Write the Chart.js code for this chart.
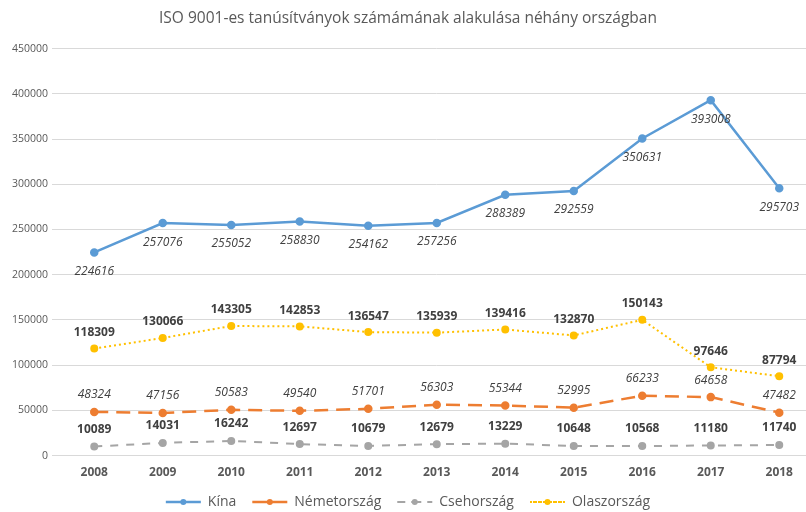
<!DOCTYPE html>
<html>
<head>
<meta charset="utf-8">
<script src="https://cdn.jsdelivr.net/npm/chart.js@4.4.1/dist/chart.umd.min.js"></script>
<style>
html, body { margin: 0; padding: 0; background: #fff; overflow: hidden; }
#wrap { width: 820px; height: 519px; position: relative; }
</style>
</head>
<body>
<div id="wrap"><canvas id="myChart"></canvas></div>
<script>
const years = ['2008', '2009', '2010', '2011', '2012', '2013', '2014', '2015', '2016', '2017', '2018'];
const kina = [224616, 257076, 255052, 258830, 254162, 257256, 288389, 292559, 350631, 393008, 295703];
const nemet = [48324, 47156, 50583, 49540, 51701, 56303, 55344, 52995, 66233, 64658, 47482];
const cseh = [10089, 14031, 16242, 12697, 10679, 12679, 13229, 10648, 10568, 11180, 11740];
const olasz = [118309, 130066, 143305, 142853, 136547, 135939, 139416, 132870, 150143, 97646, 87794];

const FONT = "'Open Sans', 'Liberation Sans', sans-serif";
const ctx = document.getElementById('myChart');

// draws the value next to each point
const valueLabels = {
    id: 'valueLabels',
    afterDatasetsDraw(chart) {
        const c = chart.ctx;
        c.save();
        c.textAlign = 'center';
        c.textBaseline = 'middle';
        c.fillStyle = '#404040';
        chart.data.datasets.forEach((ds, i) => {
            const meta = chart.getDatasetMeta(i);
            c.font = ds.labelFont;
            meta.data.forEach((pt, j) => {
                c.fillText(ds.data[j], pt.x, pt.y + ds.labelOffset);
            });
        });
        c.restore();
    }
};

// marker dot in the middle of each legend line
const legendDots = {
    id: 'legendDots',
    afterDraw(chart) {
        const lg = chart.legend;
        if (!lg || !lg.legendHitBoxes) return;
        const c = chart.ctx;
        c.save();
        lg.legendHitBoxes.forEach((hb, i) => {
            const ds = chart.data.datasets[i];
            c.fillStyle = ds.borderColor;
            c.beginPath();
            c.arc(hb.left + lg.options.labels.boxWidth / 2, hb.top + hb.height / 2, 3, 0, Math.PI * 2);
            c.fill();
        });
        c.restore();
    }
};

new Chart(ctx, {
    type: 'line',
    data: {
        labels: years,
        datasets: [{
            label: 'Kína',
            data: kina,
            borderColor: '#5B9BD5',
            backgroundColor: '#5B9BD5',
            borderWidth: 2.5,
            pointRadius: 3,
            labelFont: "italic 12px " + FONT,
            labelOffset: 19
        }, {
            label: 'Németország',
            data: nemet,
            borderColor: '#ED7D31',
            backgroundColor: '#ED7D31',
            borderWidth: 2.5,
            borderDash: [14, 8],
            pointRadius: 3,
            labelFont: "italic 12px " + FONT,
            labelOffset: -17
        }, {
            label: 'Csehország',
            data: cseh,
            borderColor: '#A5A5A5',
            backgroundColor: '#A5A5A5',
            borderWidth: 2,
            borderDash: [8, 8],
            pointRadius: 3,
            labelFont: "bold 12px " + FONT,
            labelOffset: -17
        }, {
            label: 'Olaszország',
            data: olasz,
            borderColor: '#FFC000',
            backgroundColor: '#FFC000',
            borderWidth: 2,
            borderDash: [2, 3],
            pointRadius: 3,
            labelFont: "bold 12px " + FONT,
            labelOffset: -16
        }]
    },
    options: {
        responsive: true,
        maintainAspectRatio: false,
        animation: false,
        layout: { padding: { left: 0, right: 4, top: 0, bottom: 0 } },
        plugins: {
            title: {
                display: true,
                text: 'ISO 9001-es tanúsítványok számámának alakulása néhány országban',
                color: '#595959',
                font: { family: FONT, size: 15.5, weight: 'normal' },
                padding: { top: 9, bottom: 21 }
            },
            legend: {
                position: 'bottom',
                labels: {
                    boxWidth: 35,
                    boxHeight: 0,
                    color: '#595959',
                    font: { family: FONT, size: 14 },
                    padding: 16
                }
            },
            tooltip: { enabled: false }
        },
        scales: {
            x: {
                offset: true,
                afterFit(scale) { scale.height -= 3; },
                grid: { display: false },
                border: { color: '#d9d9d9' },
                ticks: { color: '#595959', font: { family: FONT, size: 12, weight: 'bold' }, padding: 2 }
            },
            y: {
                min: 0,
                max: 450000,
                afterFit(scale) { scale.width = 60; },
                grid: { color: '#d9d9d9' },
                border: { display: false },
                ticks: {
                    stepSize: 50000,
                    color: '#595959',
                    font: { family: FONT, size: 10.5 },
                    padding: 4,
                    callback: (v) => String(v)
                }
            }
        }
    },
    plugins: [valueLabels, legendDots]
});
</script>
</body>
</html>
